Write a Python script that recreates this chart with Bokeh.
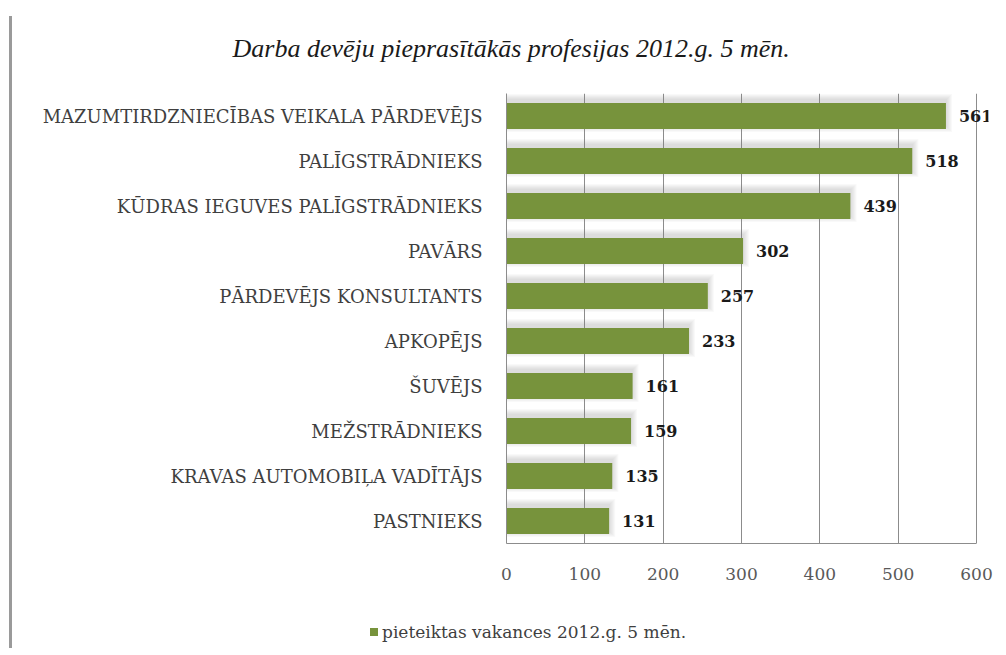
from bokeh.plotting import figure
from bokeh.models import (FactorRange, Range1d, Spacer, Div,
                          LabelSet, ColumnDataSource, FixedTicker)
from bokeh.layouts import row, column
from bokeh.transform import dodge
from bokeh.core.properties import value
from bokeh.embed import file_html
from bokeh.resources import INLINE

title_text = "Darba devēju pieprasītākās profesijas 2012.g. 5 mēn."
series_name = "pieteiktas vakances 2012.g. 5 mēn."
categories = [
    "MAZUMTIRDZNIECĪBAS VEIKALA PĀRDEVĒJS",
    "PALĪGSTRĀDNIEKS",
    "KŪDRAS IEGUVES PALĪGSTRĀDNIEKS",
    "PAVĀRS",
    "PĀRDEVĒJS KONSULTANTS",
    "APKOPĒJS",
    "ŠUVĒJS",
    "MEŽSTRĀDNIEKS",
    "KRAVAS AUTOMOBIĻA VADĪTĀJS",
    "PASTNIEKS",
]
values = [561, 518, 439, 302, 257, 233, 161, 159, 135, 131]
x_ticks = [0, 100, 200, 300, 400, 500, 600]
x_max = 600

BAR = "#77933C"
GRID = "#8c8c8c"

PX_PER_UNIT = 470 / x_max
FRAME_W, FRAME_H = 482, 450
ML, MR, MT, MB = 494, 10, 93, 69

p = figure(
    y_range=FactorRange(factors=list(reversed(categories))),
    x_range=Range1d(0, FRAME_W / PX_PER_UNIT),
    frame_width=FRAME_W, frame_height=FRAME_H,
    min_border_left=ML, min_border_right=MR,
    min_border_top=MT, min_border_bottom=MB,
    output_backend="svg", toolbar_location=None,
)
p.outline_line_color = None
p.background_fill_color = "white"

src = ColumnDataSource(dict(cat=categories, val=values,
                            lbl=[str(v) for v in values]))

# soft shadow layers
px_x = 1 / PX_PER_UNIT
px_y = 1 / (FRAME_H / len(categories))
bar_h = 26 * px_y
for k in range(1, 7):
    sh_src = ColumnDataSource(dict(cat=categories,
                                   right=[v + k * px_x for v in values]))
    p.hbar(y=dodge("cat", 3 * px_y, range=p.y_range), left=0, right="right",
           height=bar_h + 2 * k * px_y, source=sh_src,
           fill_color="#808080", fill_alpha=0.05, line_color=None)

bars = p.hbar(y="cat", left=0, right="val", height=bar_h, source=src,
              fill_color=BAR, line_color=None)

labels = LabelSet(x="val", y="cat", text="lbl", source=src, x_offset=13,
                  text_align="left", text_baseline="middle",
                  text_font=value("DejaVu Serif"), text_font_style="bold",
                  text_font_size="16px", text_color="#1a1a1a")
p.add_layout(labels)

# axes
p.xaxis.ticker = FixedTicker(ticks=x_ticks)
p.xaxis.bounds = (0, x_max)
p.xaxis.major_tick_line_color = None
p.xaxis.minor_tick_line_color = None
p.xaxis.major_tick_out = 0
p.xaxis.major_label_standoff = 24
p.xaxis.axis_line_color = GRID
p.xaxis.major_label_text_font = "DejaVu Serif"
p.xaxis.major_label_text_font_size = "17px"
p.xaxis.major_label_text_color = "#595959"

p.yaxis.major_tick_line_color = None
p.yaxis.minor_tick_line_color = None
p.yaxis.major_tick_out = 0
p.yaxis.major_label_standoff = 24
p.yaxis.axis_line_color = GRID
p.yaxis.major_label_text_font = "DejaVu Serif"
p.yaxis.major_label_text_font_size = "18px"
p.yaxis.major_label_text_color = "#3f3f3f"

p.ygrid.visible = False
p.xgrid.grid_line_color = GRID
p.xgrid.grid_line_alpha = 1.0

# title
p.title.text = title_text
p.title.align = "left"
p.title.offset = -274
p.title.standoff = 62
p.title.text_font = "Liberation Serif"
p.title.text_font_style = "italic"
p.title.text_font_size = "26px"
p.title.text_color = "#1a1a1a"

# legend row below the chart
legend_div = Div(
    text=('<span style="display:inline-block;width:8px;height:8px;'
          'background:' + BAR + ';margin-right:4px;vertical-align:middle;'
          'position:relative;top:-2px"></span>' + series_name),
    width=620, height=30, margin=(10, 0, 0, 358),
    styles={"font-family": "DejaVu Serif", "font-size": "17px",
            "color": "#3f3f3f", "line-height": "20px", "white-space": "nowrap"},
)

edge = Spacer(width=3, height=632, margin=(16, 0, 0, 9),
              styles={"background-color": "#9a9a9a"})

layout = row(edge, column(p, legend_div))
open("out.html", "w").write(file_html(layout, INLINE))
